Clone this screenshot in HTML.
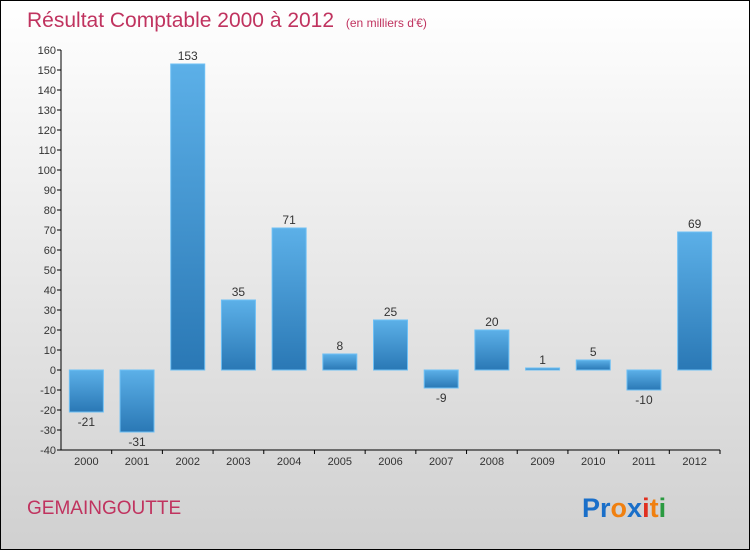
<!DOCTYPE html>
<html><head><meta charset="utf-8"><style>
body{margin:0;width:750px;height:550px;overflow:hidden;font-family:"Liberation Sans",sans-serif}
</style></head><body>
<svg width="750" height="550" xmlns="http://www.w3.org/2000/svg">
<defs>
<linearGradient id="bg" x1="0" y1="0" x2="0" y2="1"><stop offset="0" stop-color="#ffffff"/><stop offset="1" stop-color="#d0d0d0"/></linearGradient>
<linearGradient id="bar" x1="0" y1="0" x2="0" y2="1"><stop offset="0" stop-color="#5cb0e8"/><stop offset="1" stop-color="#2a78b5"/></linearGradient>
</defs>
<rect x="0.5" y="0.5" width="749" height="549" fill="url(#bg)" stroke="#000"/>
<text x="27" y="27" font-size="21" fill="#c0335f">Résultat Comptable 2000 à 2012 <tspan font-size="12" dx="6">(en milliers d'€)</tspan></text>
<g id="axes"></g>
<g id="bars"></g>
<text x="27" y="514" font-size="19" fill="#c0335f">GEMAINGOUTTE</text>
<text x="582" y="517" font-size="27" font-weight="bold"><tspan fill="#1a6fc9">Pr</tspan><tspan fill="#f08010">o</tspan><tspan fill="#1a6fc9">x</tspan><tspan fill="#e03020">i</tspan><tspan fill="#f08010">t</tspan><tspan fill="#2a9a40">i</tspan></text>
</svg>
<script>
const categories=["2000","2001","2002","2003","2004","2005","2006","2007","2008","2009","2010","2011","2012"];
const values=[-21,-31,153,35,71,8,25,-9,20,1,5,-10,69];
const yTicks=[-40,-30,-20,-10,0,10,20,30,40,50,60,70,80,90,100,110,120,130,140,150,160];
const NS="http://www.w3.org/2000/svg";
const x0=61,x1=720,yMin=-40,yMax=160,py0=450,py1=50;
const step=(x1-x0)/categories.length;
const y=v=>py0-(v-yMin)/(yMax-yMin)*(py0-py1);
const xc=i=>x0+step*(i+0.5);
function mk(t,a,p){const e=document.createElementNS(NS,t);for(const k in a)e.setAttribute(k,a[k]);p.appendChild(e);return e;}
const ax=document.getElementById('axes'),bs=document.getElementById('bars');
const yl=mk('line',{x1:x0,y1:py1,x2:x0,y2:py0,stroke:'#000'},ax);


const xl=mk('line',{x1:x0,y1:py0,x2:x1,y2:py0,stroke:'#000'},ax);


yTicks.forEach(v=>{
 mk('line',{x1:x0-4,y1:y(v),x2:x0,y2:y(v),stroke:'#000'},ax);
 const t=mk('text',{x:x0-5,y:y(v)+4,'font-size':11,fill:'#333','text-anchor':'end'},ax);
 t.textContent=v;
 
 
});
categories.forEach((c,i)=>{
 mk('line',{x1:x0+step*(i+1),y1:py0,x2:x0+step*(i+1),y2:py0+4,stroke:'#000'},ax);
 const t=mk('text',{x:xc(i),y:py0+15,'font-size':11,fill:'#333','text-anchor':'middle'},ax);
 t.textContent=c;
 
 
 const v=values[i],top=Math.min(y(v),y(0)),h=Math.abs(y(v)-y(0));
 const r=mk('rect',{x:xc(i)-17,y:top,width:34,height:Math.max(h,1),fill:'url(#bar)',stroke:'#6ec0f5','stroke-width':1},bs);
 
 
 const l=mk('text',{x:xc(i),y:v>=0?y(v)-4:y(v)+14,'font-size':12,fill:'#333','text-anchor':'middle'},bs);
 l.textContent=v;
 
 
});
</script>
</body></html>
